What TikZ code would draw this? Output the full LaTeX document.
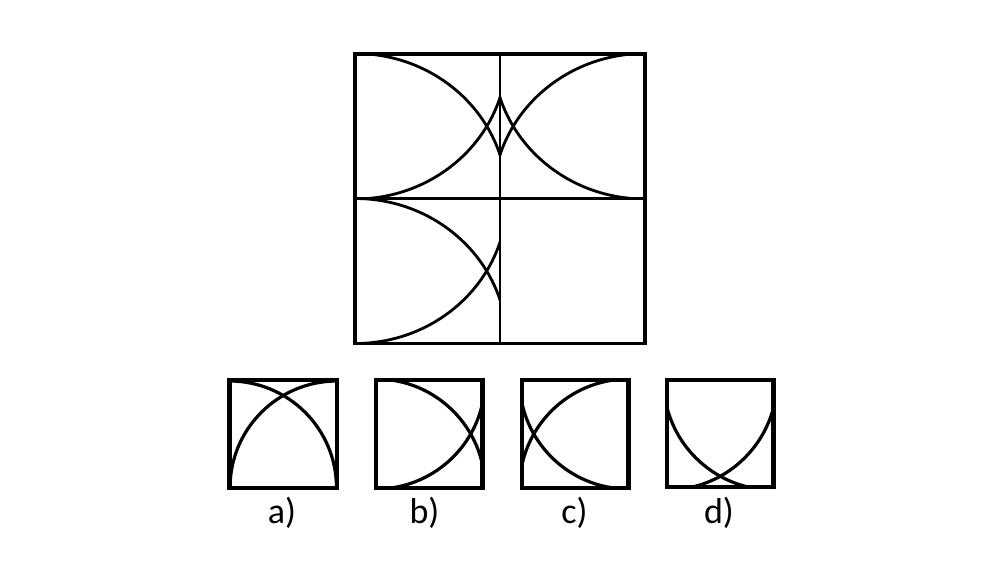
\documentclass[tikz,border=0pt]{standalone}
\usepackage{fontspec}
\setmainfont{Carlito}
\begin{document}
\begin{tikzpicture}[x=1pt,y=-1pt,
  frame/.style={line width=3.3pt, line join=miter},
  divider/.style={line width=2.4pt},
  arcline/.style={line width=2.8pt},
  optbox/.style={line width=4.6pt, line join=miter},
  optarc/.style={line width=3.2pt},
  bigarc/.style={x radius=152pt, y radius=145pt},
  lbl/.style={anchor=base, font=\fontsize{36}{40}\selectfont, inner sep=0pt}]
\useasboundingbox[fill=white] (0,0) rectangle (1000,563);

% ---------- main 2x2 grid ----------
% top-left cell: arcs centred on the left corners
\begin{scope}
  \clip (355,54) rectangle (500,198.5);
  \draw[arcline] (355,54) circle[bigarc];
  \draw[arcline] (355,198.5) circle[bigarc];
\end{scope}
% top-right cell: arcs centred on the right corners
\begin{scope}
  \clip (500,54) rectangle (645,198.5);
  \draw[arcline] (645,54) circle[bigarc];
  \draw[arcline] (645,198.5) circle[bigarc];
\end{scope}
% bottom-left cell: arcs centred on the left corners
\begin{scope}
  \clip (355,198.5) rectangle (500,343.5);
  \draw[arcline] (355,198.5) circle[bigarc];
  \draw[arcline] (355,343.5) circle[bigarc];
\end{scope}
% dividers and frame
\draw[divider] (500,54) -- (500,343.5);
\draw[divider, line width=2.2pt] (355,198.5) -- (500,198.5);
\draw[divider, line width=3.2pt] (500,198.5) -- (645,198.5);
\draw[frame] (355,54) rectangle (645,343.5);

% ---------- answer options ----------
% a) arcs centred on the bottom corners
\begin{scope}
  \clip (229.5,380) rectangle (337,488);
  \draw[optarc] (229.5,488) circle[radius=107pt];
  \draw[optarc] (337,488) circle[radius=107pt];
\end{scope}
\draw[optbox] (229.5,380) rectangle (337,488);
% b) arcs centred on the left corners
\begin{scope}
  \clip (376,380) rectangle (482.5,488);
  \draw[optarc] (376,380) circle[radius=109pt];
  \draw[optarc] (376,488) circle[radius=109pt];
\end{scope}
\draw[optbox] (376,380) rectangle (482.5,488);
% c) arcs centred on the right corners
\begin{scope}
  \clip (522,380) rectangle (628.5,488);
  \draw[optarc] (628.5,380) circle[radius=109pt];
  \draw[optarc] (628.5,488) circle[radius=109pt];
\end{scope}
\draw[optbox] (522,380) rectangle (628.5,488);
% d) arcs centred on the top corners
\begin{scope}
  \clip (667,380) rectangle (773.5,487);
  \draw[optarc] (667,380) circle[radius=110pt];
  \draw[optarc] (773.5,380) circle[radius=110pt];
\end{scope}
\draw[optbox] (667,380) rectangle (773.5,487);

% labels
\node[lbl] (la) at (282,523) {a)};
\node[lbl] (lb) at (424.5,523) {b)};
\node[lbl] (lc) at (574.5,523) {c)};
\node[lbl] (ld) at (719,523) {d)};
\end{tikzpicture}
\end{document}
